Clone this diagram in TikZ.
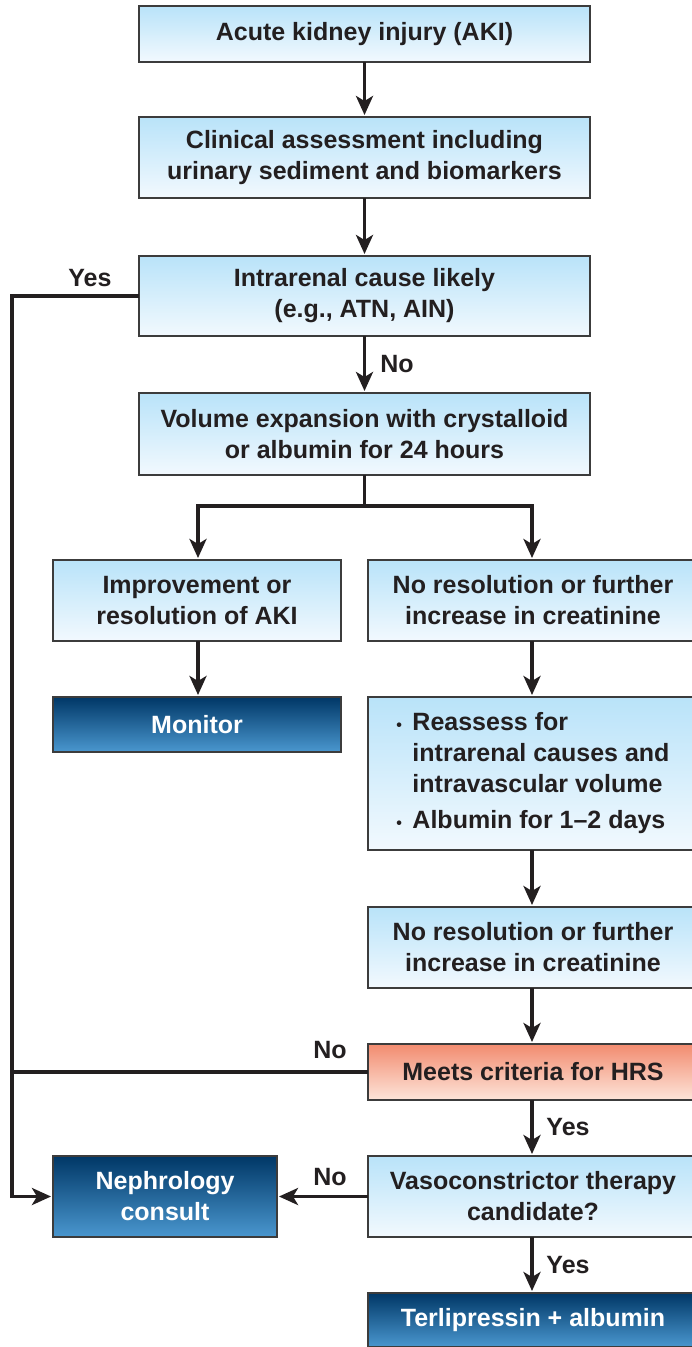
\documentclass[tikz,border=0pt]{standalone}
\usepackage{fontspec}
\setmainfont{Liberation Sans}
\usetikzlibrary{arrows.meta}
\definecolor{txt}{HTML}{231F20}
\definecolor{lbtop}{HTML}{B9E3F9}
\definecolor{lbbot}{HTML}{F2F9FE}
\definecolor{dbtop}{HTML}{003766}
\definecolor{dbbot}{HTML}{4A97CF}
\definecolor{hrstop}{HTML}{F28B6F}
\definecolor{hrsbot}{HTML}{FDE5DA}
\definecolor{edgegray}{HTML}{3C3C3C}
\def\bul{\makebox[16pt][l]{\fontsize{16}{16}\selectfont\textbullet}}

\tikzset{
  box/.style={draw=edgegray, line width=1.6pt, top color=lbtop, bottom color=lbbot,
    text=txt, font=\bfseries\fontsize{25}{31}\selectfont, align=center,
    inner sep=0pt, outer sep=0pt},
  darkbox/.style={box, top color=dbtop, bottom color=dbbot, text=white},
  hrsbox/.style={box, top color=hrstop, bottom color=hrsbot},
  flow/.style={line width=3.6pt, draw=txt, shorten >=2pt,
    -{Stealth[length=19pt,width=17pt,inset=5pt]}},
  link/.style={line width=3.6pt, draw=txt},
  lbl/.style={text=txt, font=\bfseries\fontsize{25}{31}\selectfont, inner sep=0pt}
}

\begin{document}
\begin{tikzpicture}[x=1pt,y=-1pt]
\useasboundingbox (0,0) rectangle (692,1347);
% main column
\node[box, minimum width=451, minimum height=56] (aki) at (364.5,34) {Acute kidney injury (AKI)};
\node[box, minimum width=451, minimum height=81] (clin) at (364.5,157.5) {Clinical assessment including\\urinary sediment and biomarkers};
\node[box, minimum width=451, minimum height=80] (intra) at (364.5,296) {Intrarenal cause likely\\(e.g., ATN, AIN)};
\node[box, minimum width=451, minimum height=82] (vol) at (364.5,434) {Volume expansion with crystalloid\\or albumin for 24 hours};
% left column
\node[box, minimum width=288, minimum height=81] (improve) at (197,600.5) {Improvement or\\resolution of AKI};
\node[darkbox, minimum width=288, minimum height=55] (monitor) at (197,724.5) {Monitor};
\node[darkbox, minimum width=224, minimum height=81] (nephro) at (165,1196.5) {Nephrology\\consult};
% right column
\node[box, minimum width=330, minimum height=153, align=left] (reassess) at (533,773.5) {%
  \begin{tabular}{@{}l@{}l@{}}
  \bul & Reassess for\\
       & intrarenal causes and\\
       & intravascular volume\\[5pt]
  \bul & Albumin for 1--2 days
  \end{tabular}};
\node[box, minimum width=330, minimum height=81] (nores1) at (533,600.5) {No resolution or further\\increase in creatinine};
\node[box, minimum width=330, minimum height=81] (nores2) at (533,947.5) {No resolution or further\\increase in creatinine};
\node[hrsbox, minimum width=330, minimum height=56] (hrs) at (533,1072) {Meets criteria for HRS};
\node[box, minimum width=330, minimum height=81] (vaso) at (533,1196.5) {Vasoconstrictor therapy\\candidate?};
\node[darkbox, minimum width=330, minimum height=54] (terli) at (533,1320) {Terlipressin + albumin};

% connectors
\draw[flow] (aki) -- (clin);
\draw[flow] (clin) -- (intra);
\draw[flow] (intra) -- (vol);
\draw[link] (vol.south) -- ++(0,31) coordinate (split);
\draw[flow] (split) -| ([xshift=1pt]improve.north);
\draw[flow] (split) -| ([xshift=-1pt]nores1.north);
\draw[flow] ([xshift=1pt]improve.south) -- ([xshift=1pt]monitor.north);
\draw[flow] ([xshift=-1pt]nores1.south) -- ([xshift=-1pt]reassess.north);
\draw[flow] ([xshift=-1pt]reassess.south) -- ([xshift=-1pt]nores2.north);
\draw[flow] ([xshift=-1pt]nores2.south) -- ([xshift=-1pt]hrs.north);
\draw[flow] ([xshift=-1pt]hrs.south) -- ([xshift=-1pt]vaso.north);
\draw[flow] ([xshift=-1pt]vaso.south) -- ([xshift=-1pt]terli.north);
\draw[flow] (vaso.west) -- (nephro.east);
\coordinate (rail) at (12,296);
\draw[flow] (intra.west) -- (rail) |- (nephro.west);
\draw[link] (hrs.west) -- (hrs.west -| rail);

% labels
\node[lbl] (yes1) at (90,278) {Yes};
\node[lbl] (no1) at (397,364) {No};
\node[lbl] (no2) at (330,1050) {No};
\node[lbl] (yes2) at (568,1127) {Yes};
\node[lbl] (no3) at (330,1177) {No};
\node[lbl] (yes3) at (568,1265) {Yes};
\end{tikzpicture}
\end{document}
